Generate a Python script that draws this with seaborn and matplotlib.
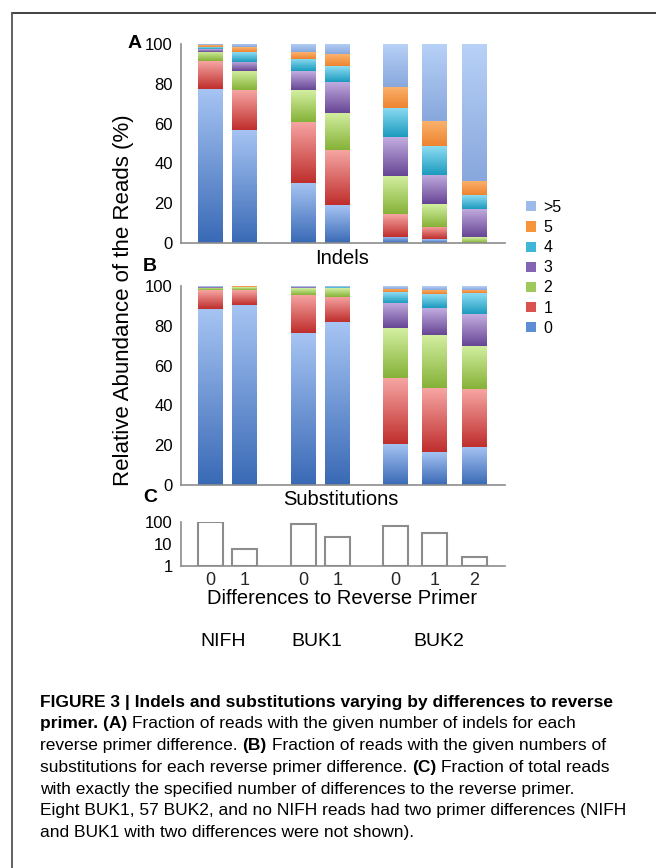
import numpy as np
import matplotlib
matplotlib.use("Agg")
import matplotlib.pyplot as plt
from matplotlib.colors import LinearSegmentedColormap
from matplotlib.patches import Patch
from matplotlib.lines import Line2D
import seaborn as sns

# ---- data ----
groups = ["NIFH", "BUK1", "BUK2"]
primer_diffs = ["0", "1", "0", "1", "0", "1", "2"]
bar_group = [0, 0, 1, 1, 2, 2, 2]
levels = ["0", "1", "2", "3", "4", "5", ">5"]

# panel A: % of reads with n indels (one value per bar)
indel_0 = [77.5, 57.0, 30.2, 19.0, 3.2, 1.8, 0.0]
indel_1 = [13.8, 19.7, 30.7, 27.6, 11.4, 6.4, 0.0]
indel_2 = [4.8, 9.7, 15.8, 18.8, 19.3, 11.3, 3.0]
indel_3 = [1.5, 4.7, 9.5, 15.6, 19.3, 14.6, 14.3]
indel_4 = [1.0, 4.9, 6.1, 7.8, 14.6, 14.4, 7.0]
indel_5 = [0.7, 2.3, 3.5, 6.0, 10.7, 12.6, 7.1]
indel_gt5 = [0.7, 1.7, 4.2, 5.2, 21.5, 38.9, 68.6]

# panel B: % of reads with n substitutions
subst_0 = [88.6, 90.6, 76.3, 81.9, 20.7, 16.7, 19.1]
subst_1 = [9.2, 7.2, 19.4, 12.6, 33.0, 31.8, 29.1]
subst_2 = [1.4, 1.5, 3.1, 4.3, 25.1, 26.9, 21.9]
subst_3 = [0.2, 0.2, 0.5, 0.3, 12.8, 13.4, 15.9]
subst_4 = [0.2, 0.2, 0.2, 0.2, 5.4, 7.0, 10.5]
subst_5 = [0.1, 0.1, 0.2, 0.4, 1.7, 2.4, 1.7]
subst_gt5 = [0.3, 0.2, 0.3, 0.3, 1.3, 1.8, 1.8]

# panel C: % of total reads with that many primer differences
read_frac = [98, 5.7, 84, 20, 66, 33, 2.6]

# ---- styling ----
mid_colors = ["#5f8dd3", "#d9534f", "#9fc95a", "#8465b3", "#3fb6d8", "#f7953c", "#9cbbea"]
grad_colors = [("#3a6ab6", "#a6c4f3"), ("#bf2f2d", "#f6a5a3"), ("#86b238", "#d3efa1"),
               ("#674695", "#c2ade0"), ("#1c9bbe", "#8ddcf3"), ("#ee8430", "#fbb36e"),
               ("#88a7dc", "#b7d1f7")]
axis_grey = "#8c8c8c"

group_start = [0.637, 2.646, 4.633]
group_step = [0.734, 0.734, 0.853]
within = [0, 1, 0, 1, 0, 1, 2]
bar_x = [group_start[g] + i * group_step[g] for g, i in zip(bar_group, within)]
bar_w = 0.54
native = np.diff(np.sort(bar_x)).min()

W, H = 656, 868


def fx(x):
    return x / W


def fy(y):
    return 1 - y / H


sns.set_theme(style="white")
plt.rcParams["font.family"] = ["Liberation Sans", "DejaVu Sans"]
plt.rcParams["text.color"] = "black"

fig = plt.figure(figsize=(W / 100, H / 100), dpi=100)
ax_a = fig.add_axes([fx(181), fy(243), 324 / W, 199 / H])
ax_b = fig.add_axes([fx(181), fy(485), 324 / W, 199 / H])
ax_c = fig.add_axes([fx(181), fy(566), 324 / W, 44 / H])

grad = np.linspace(0, 1, 64).reshape(-1, 1)


def draw_stack(ax, series):
    cum = np.cumsum(np.array(series), axis=0)
    # cumulative bars, tallest first so each lower level paints over it
    for k in reversed(range(len(levels))):
        sns.barplot(x=bar_x, y=cum[k], native_scale=True, orient="x",
                    color=mid_colors[k], saturation=1, width=bar_w / native,
                    errorbar=None, linewidth=0, ax=ax)
    # vertical shading inside every segment
    for k in range(len(levels)):
        cmap = LinearSegmentedColormap.from_list("g%d" % k, grad_colors[k])
        bottoms = cum[k - 1] if k else np.zeros(len(bar_x))
        for xi, b, t in zip(bar_x, bottoms, cum[k]):
            if t - b <= 0.05:
                continue
            ax.imshow(grad, cmap=cmap, extent=(xi - bar_w / 2, xi + bar_w / 2, b, t),
                      aspect="auto", origin="lower", interpolation="bilinear", zorder=3)
    ax.set_xlim(0, 7)
    ax.set_ylim(0, 100)
    ax.set_yticks(range(0, 101, 20))
    ax.set_xticks(range(1, 8))
    ax.set_xticklabels([])


def style_axis(ax):
    sns.despine(ax=ax)
    for s in ("left", "bottom"):
        ax.spines[s].set_color(axis_grey)
        ax.spines[s].set_linewidth(1.2)
        ax.spines[s].set_zorder(4)
    ax.tick_params(axis="both", direction="out", color=axis_grey, width=1.2,
                   labelsize=12, labelcolor="black")
    ax.tick_params(axis="y", length=4, pad=2)
    ax.tick_params(axis="x", length=5)
    ax.set_xlabel("")
    ax.set_ylabel("")


draw_stack(ax_a, [indel_0, indel_1, indel_2, indel_3, indel_4, indel_5, indel_gt5])
draw_stack(ax_b, [subst_0, subst_1, subst_2, subst_3, subst_4, subst_5, subst_gt5])
style_axis(ax_a)
style_axis(ax_b)

# panel C (log scale, open bars)
sns.barplot(x=bar_x, y=read_frac, native_scale=True, orient="x", color="white",
            saturation=1, width=bar_w / native, errorbar=None,
            edgecolor=axis_grey, linewidth=1.5, ax=ax_c)
ax_c.set_yscale("log")
# bars start at the log axis floor (1) instead of 0
for p in ax_c.patches:
    top = p.get_y() + p.get_height()
    p.set_y(1)
    p.set_height(top - 1)
ax_c.set_ylim(1, 100)
ax_c.set_xlim(0, 7)
ax_c.set_yticks([1, 10, 100])
ax_c.set_yticklabels(["1", "10", "100"])
ax_c.minorticks_off()
ax_c.set_xticks(range(1, 8))
ax_c.set_xticklabels([])
ax_c.set_xticks(bar_x, minor=True)
ax_c.set_xticklabels(primer_diffs, minor=True)
style_axis(ax_c)
ax_c.tick_params(axis="x", which="minor", length=0, labelsize=13, pad=4)

# texts
fig.text(fx(123), fy(300), "Relative Abundance of the Reads (%)", rotation=90,
         ha="center", va="center", fontsize=16)
fig.text(fx(135), fy(44), "A", fontsize=14, fontweight="bold", ha="center", va="center")
fig.text(fx(150), fy(267), "B", fontsize=14, fontweight="bold", ha="center", va="center")
fig.text(fx(150), fy(497), "C", fontsize=14, fontweight="bold", ha="center", va="center")
fig.text(fx(342), fy(258), "Indels", fontsize=14.5, ha="center", va="center")
fig.text(fx(341), fy(500), "Substitutions", fontsize=14.5, ha="center", va="center")
fig.text(fx(342), fy(598), "Differences to Reverse Primer", fontsize=14.5,
         ha="center", va="center")
for name, gx in zip(groups, [223, 317, 439]):
    fig.text(fx(gx), fy(641), name, fontsize=14, ha="center", va="center")

# legend
handles = [Patch(facecolor=c, edgecolor="none") for c in mid_colors][::-1]
fig.legend(handles, levels[::-1], loc="upper left", bbox_to_anchor=(fx(526), fy(200)),
           frameon=False, fontsize=11.5, handlelength=0.6, handleheight=0.6,
           handletextpad=0.5, labelspacing=0.32, borderpad=0, borderaxespad=0)

# caption, drawn run by run so bold and regular pieces can share a line
caption = [
    [("FIGURE 3 | Indels and substitutions varying by differences to reverse", True)],
    [("primer. (A)", True), (" Fraction of reads with the given number of indels for each", False)],
    [("reverse primer difference. ", False), ("(B)", True),
     (" Fraction of reads with the given numbers of", False)],
    [("substitutions for each reverse primer difference. ", False), ("(C)", True),
     (" Fraction of total reads", False)],
    [("with exactly the specified number of differences to the reverse primer.", False)],
    [("Eight BUK1, 57 BUK2, and no NIFH reads had two primer differences (NIFH", False)],
    [("and BUK1 with two differences were not shown).", False)],
]
renderer = fig.canvas.get_renderer()
cap_size = 12.5


def text_width(s, bold):
    t = fig.text(0, 0, s, fontsize=cap_size, fontweight="bold" if bold else "normal")
    w = t.get_window_extent(renderer).width
    t.remove()
    return w


for i, runs in enumerate(caption):
    x = 40
    y = 702 + i * 21.8
    for s, bold in runs:
        lead = len(s) - len(s.lstrip(" "))
        trail = len(s) - len(s.rstrip(" "))
        space = text_width("x x", bold) - text_width("xx", bold)
        x += lead * space
        core = s.strip(" ")
        fig.text(fx(x), fy(y), core, fontsize=cap_size,
                 fontweight="bold" if bold else "normal", ha="left", va="center")
        x += text_width(core, bold) + trail * space

# frame
fig.add_artist(Line2D([fx(12), 1], [fy(13), fy(13)], transform=fig.transFigure,
                      color="#333333", lw=1.3))
fig.add_artist(Line2D([fx(12), fx(12)], [0, fy(13)], transform=fig.transFigure,
                      color="#555555", lw=1.3))

fig.savefig("out.png", dpi=100)
